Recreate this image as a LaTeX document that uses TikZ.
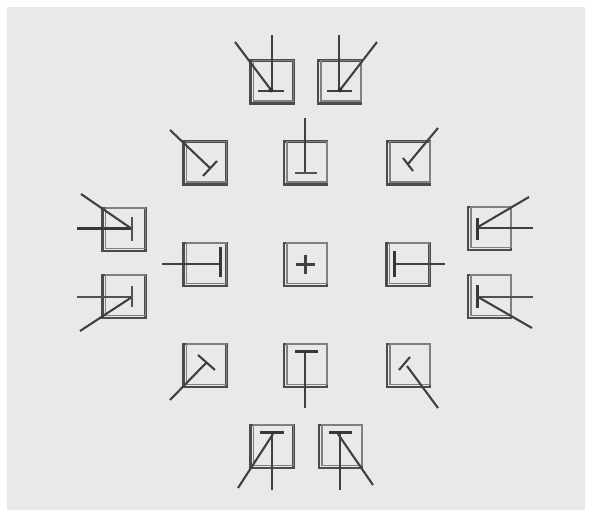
\documentclass[tikz,border=0pt]{standalone}
\begin{document}
\begin{tikzpicture}[x=1pt,y=-1pt,
  boxst/.style={draw=black!70, line width=2.2pt, rectangle, minimum size=43pt, inner sep=0pt},
  innerst/.style={draw=black!50, line width=1.3pt},
  ln/.style={draw=black!75, line width=2.1pt},
  thin/.style={draw=black!68, line width=1.6pt},
  bar/.style={draw=black!78, line width=3pt}]
\definecolor{bggray}{RGB}{233,233,233}
\useasboundingbox (0,0) rectangle (590,510);
\fill[white] (0,0) rectangle (590,510);
\fill[bggray] (7,7) rectangle (585,510);
% boxes
\node[boxst] (t1) at (272,82) {};
\node[boxst] (t2) at (339.5,82) {};
\node[boxst] (r2l) at (205,163) {};
\node[boxst] (r2m) at (305.5,163) {};
\node[boxst] (r2r) at (408.5,163) {};
\node[boxst] (fl1) at (124,229.5) {};
\node[boxst] (fl2) at (124,296.5) {};
\node[boxst] (ml) at (205,264.5) {};
\node[boxst] (c) at (305.5,264.5) {};
\node[boxst] (mr) at (408,264.5) {};
\node[boxst] (fr1) at (489.5,228.5) {};
\node[boxst] (fr2) at (489.5,296.5) {};
\node[boxst] (r4l) at (205,365.5) {};
\node[boxst] (r4m) at (305.5,365.5) {};
\node[boxst] (r4r) at (408.5,365.5) {};
\node[boxst] (b1) at (272,446.5) {};
\node[boxst] (b2) at (340.5,446.5) {};
\foreach \n in {t1,t2,r2l,r2m,r2r,fl1,fl2,ml,c,mr,fr1,fr2,r4l,r4m,r4r,b1,b2}
  \draw[innerst] ([xshift=4pt,yshift=-1pt]\n.north west) rectangle ([xshift=-1pt,yshift=3.5pt]\n.south east);
% T1
\draw[ln] (272,35) -- (272,90);
\draw[ln] (235,42) -- (271,90);
\draw[ln] (258,91) -- (284,91);
\fill[black!80] (271,90) circle (2.4pt);
% T2
\draw[ln] (339,35) -- (339,90);
\draw[ln] (377,42) -- (340,90);
\draw[ln] (327,91) -- (352,91);
\fill[black!80] (340,90) circle (2.4pt);
% R2L
\draw[ln] (170,130) -- (210,168);
\draw[ln] (203,176) -- (217,161);
% R2M
\draw[ln] (305,118) -- (305,173);
\draw[thin] (295,173) -- (317,173);
% R2R
\draw[ln] (438,128) -- (408,164);
\draw[ln] (403,158) -- (413,171);
% FL1
\draw[bar] (77,229) -- (132,229);
\draw[ln] (81,194) -- (132,229);
\draw[thin] (132,217) -- (132,241);
% FL2
\draw[thin] (77,297) -- (132,297);
\draw[ln] (80,331) -- (132,297);
\draw[thin] (132,286) -- (132,307);
% ML
\draw[ln] (162,264) -- (220,264);
\draw[bar] (220,247) -- (220,277);
% C
\draw[ln] (296,264.5) -- (315,264.5);
\draw[ln] (305.5,255) -- (305.5,274);
% MR
\draw[ln] (394,264) -- (445,264);
\draw[bar] (394,251) -- (394,277);
% FR1
\draw[ln] (477,228) -- (533,228);
\draw[ln] (529,197) -- (478,227);
\draw[bar] (477,218) -- (477,240);
% FR2
\draw[thin] (477,297) -- (533,297);
\draw[ln] (532,328) -- (478,297);
\draw[bar] (477,285) -- (477,308);
% R4L
\draw[ln] (170,400) -- (207,362);
\draw[ln] (198,355) -- (215,370);
% R4M
\draw[ln] (305,351) -- (305,408);
\draw[bar] (295,352) -- (318,352);
% R4R
\draw[ln] (438,408) -- (407,366);
\draw[ln] (399,370) -- (410,357);
% B1
\draw[ln] (272,433) -- (272,490);
\draw[ln] (238,488) -- (273,434);
\draw[bar] (260,433) -- (284,433);
% B2
\draw[ln] (340,433) -- (340,490);
\draw[ln] (373,485) -- (338,434);
\draw[bar] (329,433) -- (352,433);
\end{tikzpicture}
\end{document}
